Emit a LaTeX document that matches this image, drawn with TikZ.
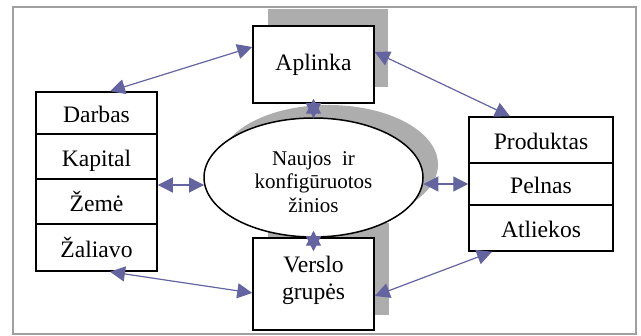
\documentclass[tikz,border=0pt]{standalone}
\usepackage{fontspec}
\setmainfont{Liberation Serif}
\usetikzlibrary{arrows.meta,shapes.geometric}
\definecolor{linkblue}{HTML}{6464A0}
\definecolor{shadowgray}{HTML}{ADADAD}
\definecolor{framegray}{HTML}{A0A0A0}
\begin{document}
\begin{tikzpicture}[x=1pt,y=-1pt,
  box/.style={draw=black,line width=1.5pt,fill=white,rectangle,inner sep=0pt,
    align=center,font=\fontsize{23.6}{27}\selectfont},
  cell/.style={box,text height=22pt,text depth=2pt},
  leftcell/.style={cell,minimum width=121pt},
  rightcell/.style={cell,minimum width=144pt},
  idea/.style={ellipse,draw=black,line width=1.5pt,fill=white,inner sep=0pt,
    minimum width=219pt,minimum height=119pt,align=center,
    font=\fontsize{21}{23.4}\selectfont},
  link/.style={draw=linkblue,line width=1.2pt,
    {Triangle[length=15pt,width=15pt]}-{Triangle[length=15pt,width=15pt]}},
  dropshadow/.style={fill=shadowgray,draw=none}]
\useasboundingbox (0,0) rectangle (641,336);
% outer frame
\draw[framegray,line width=1.5pt] (13,7) rectangle (636,334);
% drop shadows
\path[dropshadow] (268,9) rectangle (388,87);
\path[dropshadow] (268,223) rectangle (389,315);
\path[dropshadow] (328.5,164.5) ellipse [x radius=109.5, y radius=59.5];
% central nodes
\node[box,minimum width=121pt,minimum height=77pt] (apl) at (313.5,64.5) {Aplinka};
\node[box,minimum width=121pt,minimum height=92pt] (ver) at (313.5,284)
  {Verslo\\grupės\rule[-13pt]{0pt}{13pt}};
\node[idea] (ell) at (313.5,177.5)
  {\rule{0pt}{23pt}Naujos\ \ ir\\konfigūruotos\\žinios};
% left stack
\node[leftcell,minimum height=42pt] (d1) at (96.5,113) {Darbas};
\node[leftcell,minimum height=45pt] (d2) at (96.5,156.5) {Kapital};
\node[leftcell,minimum height=45pt] (d3) at (96.5,201.5) {Žemė};
\node[leftcell,minimum height=47pt] (d4) at (96.5,247.5) {Žaliavo};
% right stack
\node[rightcell,minimum height=46pt] (p1) at (541,140) {Produktas};
\node[rightcell,minimum height=42pt] (p2) at (541,184) {Pelnas};
\node[rightcell,minimum height=46pt] (p3) at (541,228) {Atliekos};
% connectors
\draw[link] ([xshift=13.5pt]d1.north) -- ([yshift=17.5pt]apl.west);
\draw[link] ([yshift=12.5pt]apl.east) -- ([xshift=-31pt]p1.north);
\draw[link] ([yshift=5pt]apl.south) -- ([yshift=-1pt]ell.north);
\draw[link] ([yshift=16.5pt]d3.east) -- ([yshift=-7.5pt,xshift=0.8pt]ell.west);
\draw[link] ([yshift=-6.5pt,xshift=-0.3pt]ell.east) -- (p2.west);
\draw[link] ([yshift=7pt]ell.south) -- ([yshift=-14pt]ver.north);
\draw[link] ([xshift=13.5pt]d4.south) -- ([yshift=-9pt]ver.west);
\draw[link] ([yshift=-12pt]ver.east) -- ([xshift=-49pt]p3.south);
\end{tikzpicture}
\end{document}
